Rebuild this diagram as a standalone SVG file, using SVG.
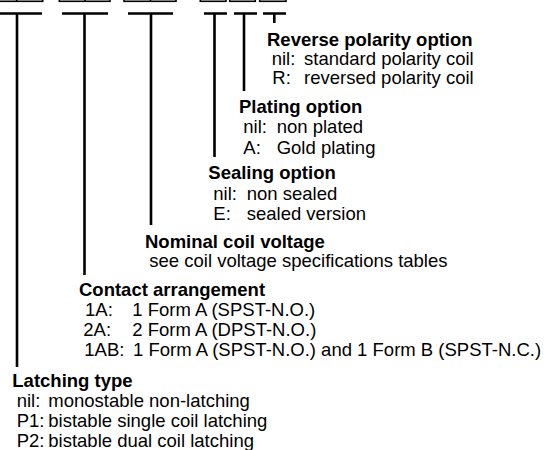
<svg xmlns="http://www.w3.org/2000/svg" width="549" height="450" viewBox="0 0 549 450">
<style>
text{font-family:"Liberation Sans",Arial,sans-serif;font-size:18.5px;fill:#000}
.t{font-weight:bold}
.box{fill:none;stroke:#000;stroke-width:1.6}
.c{fill:none;stroke:#000;stroke-width:2.6}
</style>
<rect width="549" height="450" fill="#fff"/>
<g id="code-boxes">
<rect class="box" x="-9.3" y="-20" width="52" height="21.3"/><line class="box" x1="16.7" y1="-20" x2="16.7" y2="1.3"/>
<rect class="box" x="59.3" y="-20" width="50.7" height="21.3"/><line class="box" x1="85" y1="-20" x2="85" y2="1.3"/>
<rect class="box" x="124" y="-20" width="52" height="21.3"/><line class="box" x1="150.5" y1="-20" x2="150.5" y2="1.3"/>
<rect class="box" x="200.3" y="-20" width="25.7" height="21.3"/>
<rect class="box" x="229.7" y="-20" width="25.6" height="21.3"/>
<rect class="box" x="259.7" y="-20" width="26.3" height="21.3"/>
</g>
<g id="connectors">
<path class="c" d="M0 13.5H42M17 13.5V367"/>
<path class="c" d="M62 13.5H108M84.5 13.5V275"/>
<path class="c" d="M128 13.5H173M151 13.5V225"/>
<path class="c" d="M204 13.5H227M214.5 13.5V157"/>
<path class="c" d="M234 13.5H257M244 13.5V91"/>
<path class="c" d="M263 13.5H286M274.3 13.5V23"/>
</g>
<g id="reverse-polarity">
<text class="t" x="267" y="46">Reverse polarity option</text>
<text x="271.7" y="65">nil:</text><text x="304" y="65">standard polarity coil</text>
<text x="272.3" y="84">R:</text><text x="304" y="84">reversed polarity coil</text>
</g>
<g id="plating">
<text class="t" x="239" y="113">Plating option</text>
<text x="243.3" y="133">nil:</text><text x="276.7" y="133">non plated</text>
<text x="243.3" y="153.5">A:</text><text x="276.7" y="153.5">Gold plating</text>
</g>
<g id="sealing">
<text class="t" x="208.3" y="179.3">Sealing option</text>
<text x="213.3" y="199.8">nil:</text><text x="246.7" y="199.8">non sealed</text>
<text x="213.3" y="220">E:</text><text x="246.7" y="220">sealed version</text>
</g>
<g id="nominal-voltage">
<text class="t" x="145" y="247.7">Nominal coil voltage</text>
<text x="149.3" y="267">see coil voltage specifications tables</text>
</g>
<g id="contact-arrangement">
<text class="t" x="79" y="296">Contact arrangement</text>
<text x="85" y="316">1A:</text><text x="132.3" y="316">1 Form A (SPST-N.O.)</text>
<text x="83.3" y="336">2A:</text><text x="132.3" y="336">2 Form A (DPST-N.O.)</text>
<text x="84.3" y="356">1AB:</text><text x="133" y="356">1 Form A (SPST-N.O.) and 1 Form B (SPST-N.C.)</text>
</g>
<g id="latching-type">
<text class="t" x="12.3" y="387">Latching type</text>
<text x="16.7" y="407">nil:</text><text x="48.3" y="407">monostable non-latching</text>
<text x="16.7" y="427">P1:</text><text x="48.3" y="427">bistable single coil latching</text>
<text x="16.7" y="447">P2:</text><text x="48.3" y="447">bistable dual coil latching</text>
</g>
</svg>
